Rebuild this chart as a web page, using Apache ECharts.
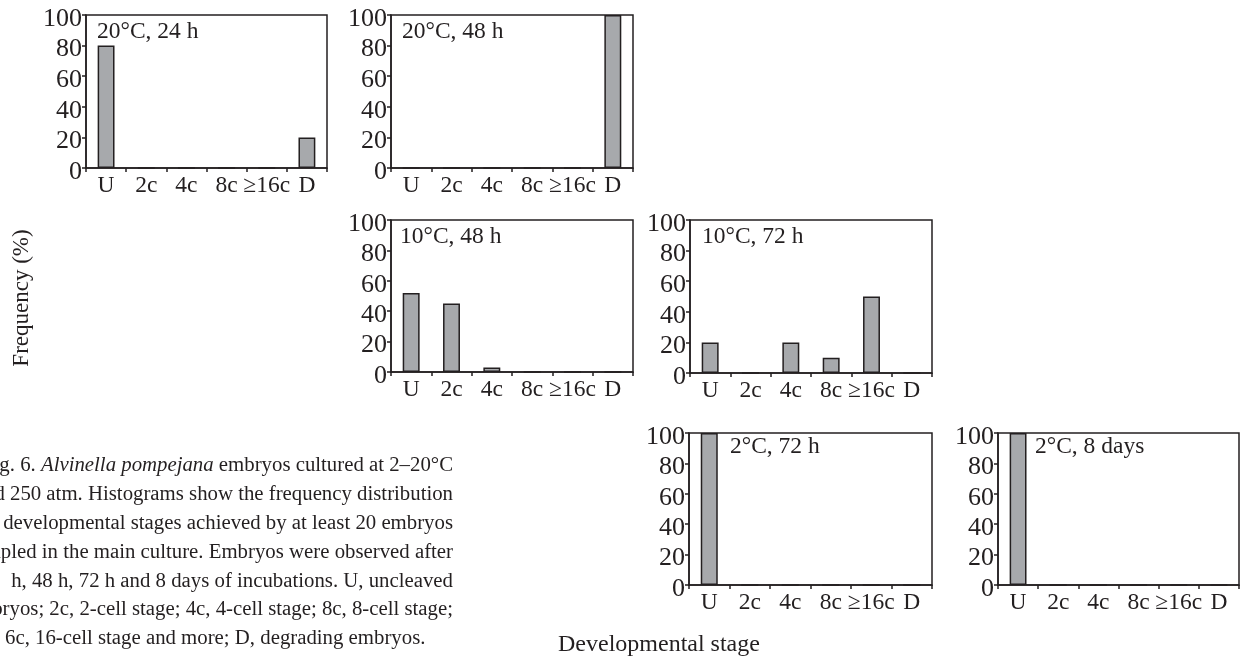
<!DOCTYPE html>
<html>
<head>
<meta charset="utf-8">
<script src="https://cdn.jsdelivr.net/npm/echarts@6/dist/echarts.min.js"></script>
<style>
  html, body { margin: 0; padding: 0; background: #ffffff; }
  #chart { width: 1241px; height: 658px; }
</style>
</head>
<body>
<div id="chart"></div>
<script>
// ---- Data ----
const categories = ['U', '2c', '4c', '8c', '\u226516c', 'D'];
const panelTitles = ['20\u00b0C, 24 h', '20\u00b0C, 48 h', '10\u00b0C, 48 h', '10\u00b0C, 72 h', '2\u00b0C, 72 h', '2\u00b0C, 8 days'];
const freq20C24h = [80, 0, 0, 0, 0, 20];
const freq20C48h = [0, 0, 0, 0, 0, 100];
const freq10C48h = [52, 45, 3, 0, 0, 0];
const freq10C72h = [20, 0, 20, 10, 50, 0];
const freq2C72h  = [100, 0, 0, 0, 0, 0];
const freq2C8d   = [100, 0, 0, 0, 0, 0];
const yAxisLabel = 'Frequency (%)';
const xAxisLabel = 'Developmental stage';
const captionLines = [
  'g. 6. ',
  'd 250 atm. Histograms show the frequency distribution',
  'developmental stages achieved by at least 20 embryos',
  'mpled in the main culture. Embryos were observed after',
  'h, 48 h, 72 h and 8 days of incubations. U, uncleaved',
  'bryos; 2c, 2-cell stage; 4c, 4-cell stage; 8c, 8-cell stage;',
  '6c, 16-cell stage and more; D, degrading embryos.'
];
const captionItalic = 'Alvinella pompejana';
const captionLine1End = ' embryos cultured at 2\u201320\u00b0C';

// ---- Layout / style ----
const INK = '#231f20';
const FONT = '"Liberation Serif", "DejaVu Serif", serif';
const FS_Y = 26, FS_X = 23.5, FS_T = 23.5, FS_CAP = 20.8;
const panelData = [freq20C24h, freq20C48h, freq10C48h, freq10C72h, freq2C72h, freq2C8d];
const grids = [
  { left: 86,  top: 15,  width: 241, height: 153 },
  { left: 391, top: 15,  width: 242, height: 153 },
  { left: 391, top: 220, width: 242, height: 152 },
  { left: 690, top: 220, width: 242, height: 153 },
  { left: 689, top: 433, width: 243, height: 152 },
  { left: 998, top: 433, width: 241, height: 152 }
];
const titlePos = [
  { left: 97,  top: 20 },
  { left: 402, top: 20 },
  { left: 400, top: 225 },
  { left: 702, top: 225 },
  { left: 730, top: 435 },
  { left: 1035, top: 435 }
];

const option = {
  animation: false,
  backgroundColor: '#ffffff',
  textStyle: { fontFamily: FONT, color: INK },
  title: panelTitles.map((t, i) => ({
    text: t, left: titlePos[i].left, top: titlePos[i].top, padding: 0,
    textStyle: { fontFamily: FONT, fontSize: FS_T, fontWeight: 'normal', color: INK }
  })),
  grid: grids.map(g => Object.assign({ show: true, borderColor: INK, borderWidth: 1.5, backgroundColor: 'transparent', containLabel: false }, g)),
  xAxis: grids.map((g, i) => ({
    type: 'category', gridIndex: i, data: categories,
    boundaryGap: true,
    axisLine: { lineStyle: { color: INK, width: 1.5 } },
    axisTick: { show: true, inside: false, length: 4, alignWithLabel: false, lineStyle: { color: INK, width: 1.5 } },
    axisLabel: { interval: 0, margin: 6, fontFamily: FONT, fontSize: FS_X, color: INK, hideOverlap: false },
    splitLine: { show: false }
  })),
  yAxis: grids.map((g, i) => ({
    type: 'value', gridIndex: i, min: 0, max: 100, interval: 20,
    axisLine: { show: true, lineStyle: { color: INK, width: 1.5 } },
    axisTick: { show: true, inside: false, length: 4, lineStyle: { color: INK, width: 1.5 } },
    axisLabel: {
      margin: 4, color: INK,
      formatter: '{v|{value}}',
      rich: { v: { fontFamily: FONT, fontSize: FS_Y, color: INK, padding: [8, 0, 0, 0] } }
    },
    splitLine: { show: false }
  })),
  series: panelData.map((d, i) => ({
    type: 'bar', xAxisIndex: i, yAxisIndex: i, data: d,
    barWidth: '42%',
    itemStyle: { color: '#a7a9ac', borderColor: INK, borderWidth: 1.5 },
    silent: true
  })),
  graphic: [
    {
      type: 'text', x: 22, y: 298, rotation: Math.PI / 2,
      style: { text: yAxisLabel, fontFamily: FONT, fontSize: 23, fill: INK, align: 'center', verticalAlign: 'middle' }
    },
    {
      type: 'text', x: 558, y: 645,
      style: { text: xAxisLabel, fontFamily: FONT, fontSize: 24, fill: INK, align: 'left', verticalAlign: 'middle' }
    },
    {
      type: 'text', x: 453, y: 466,
      style: {
        text: '{n|' + captionLines[0] + '}{i|' + captionItalic + '}{n|' + captionLine1End + '}',
        align: 'right', verticalAlign: 'middle',
        rich: {
          n: { fontFamily: FONT, fontSize: FS_CAP, fill: INK, color: INK },
          i: { fontFamily: FONT, fontSize: FS_CAP, fontStyle: 'italic', fill: INK, color: INK }
        }
      }
    }
  ].concat(captionLines.slice(1, 6).map((t, k) => ({
    type: 'text', x: 453, y: 466 + 28.8 * (k + 1),
    style: { text: t, fontFamily: FONT, fontSize: FS_CAP, fill: INK, align: 'right', verticalAlign: 'middle' }
  }))).concat([{
    type: 'text', x: 5, y: 466 + 28.8 * 6,
    style: { text: captionLines[6], fontFamily: FONT, fontSize: FS_CAP, fill: INK, align: 'left', verticalAlign: 'middle' }
  }])
};

const chart = echarts.init(document.getElementById('chart'), null, { renderer: 'canvas' });
chart.setOption(option);
</script>
</body>
</html>
